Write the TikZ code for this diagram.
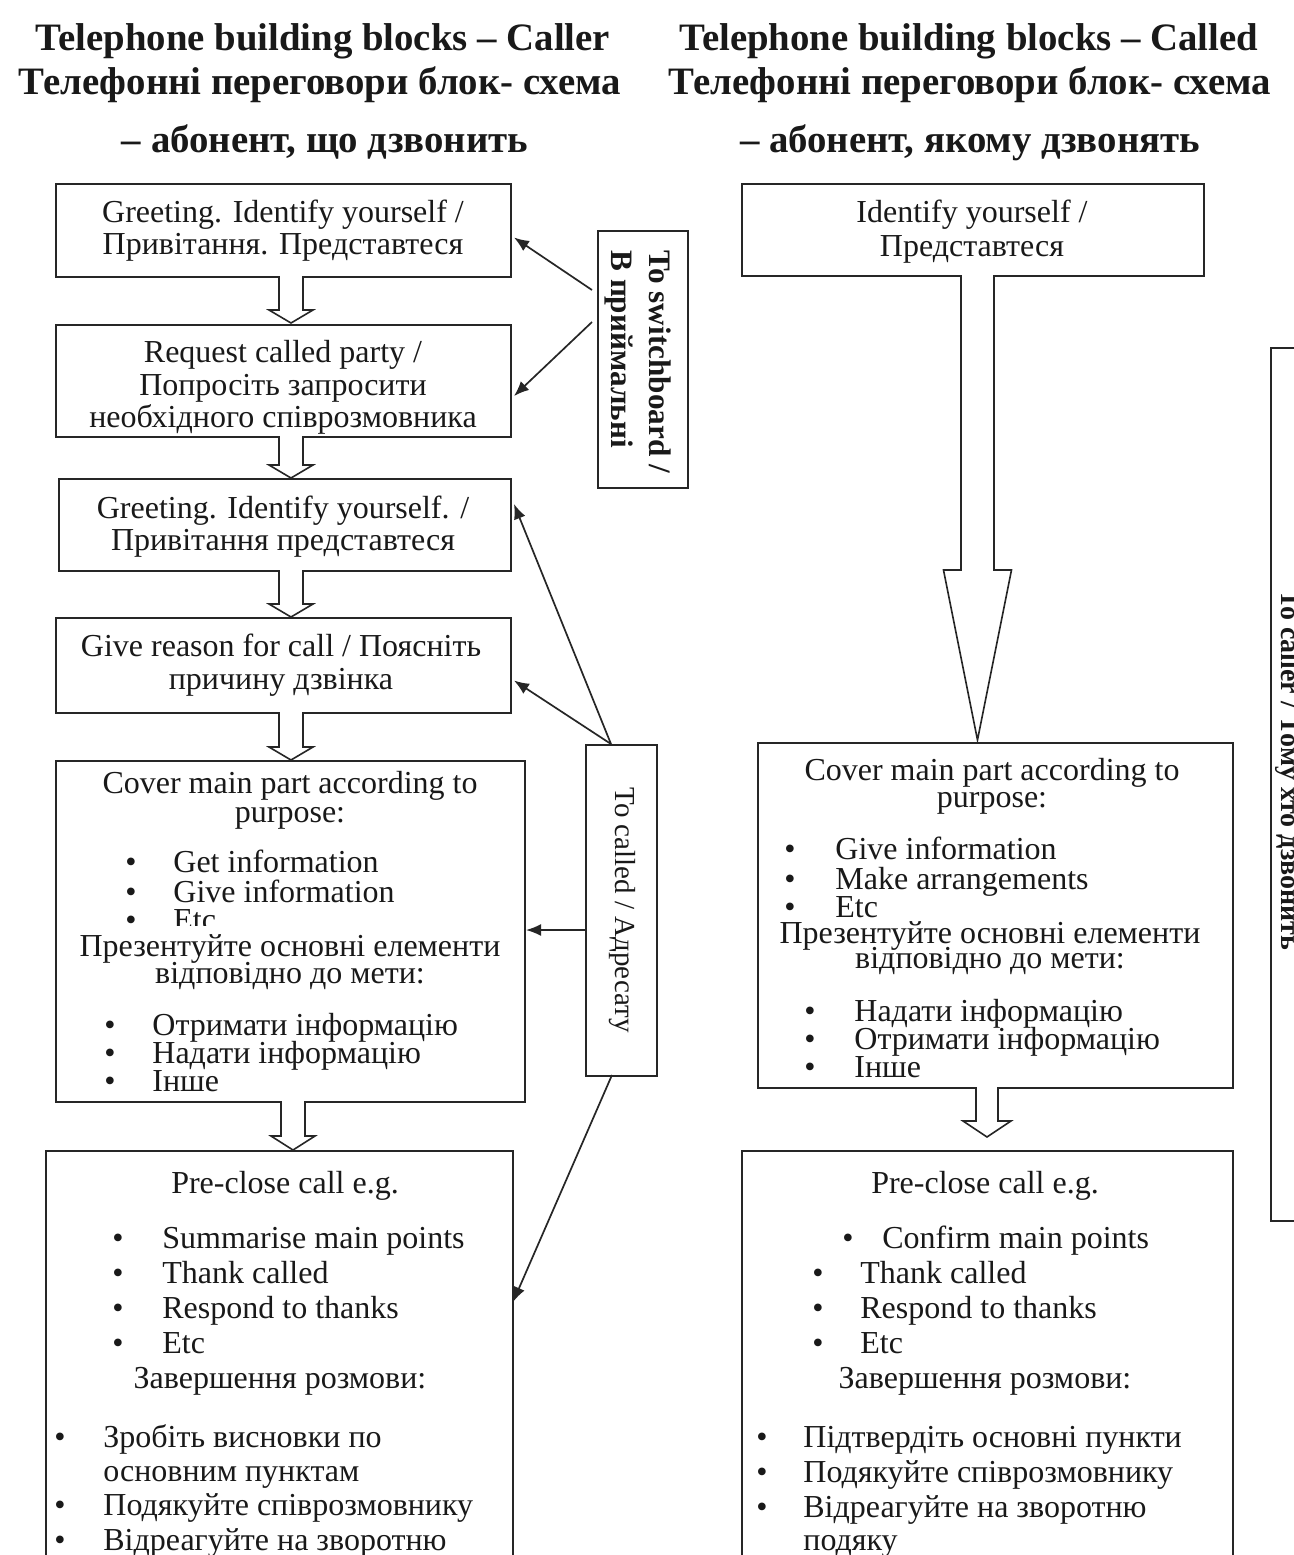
\documentclass[tikz,border=0pt]{standalone}
\usepackage{fontspec}
\setmainfont{Liberation Serif}
\usetikzlibrary{arrows.meta,calc}
\newcounter{tn}
\newcommand\bodyf{\fontsize{16}{15}\selectfont}
\newcommand\titf{\fontsize{19.4}{22}\selectfont\bfseries}
\newcommand\ct[3]{\stepcounter{tn}\node[txt,anchor=base] (t\arabic{tn}) at (#1,#2+10) {#3};}
\newcommand\lt[3]{\stepcounter{tn}\node[txt,anchor=base west] (t\arabic{tn}) at (#1,#2+10) {#3};}
\newcommand\bl[4]{\stepcounter{tn}\node[txt,anchor=base] (t\arabic{tn}) at (#1,#3+10) {•};\lt{#2}{#3}{#4}}
\newcommand\ttl[3]{\stepcounter{tn}\node[txt,font=\titf,anchor=base] (t\arabic{tn}) at (#1,#2+12) {#3};}
\newcommand\bx[5]{\node[box,anchor=north west,minimum width={0.5pt*(#4-#2)},minimum height={0.5pt*(#5-#3)}] (#1) at (#2,#3) {};}
% block arrow: x, ytop, ytip, shaft half, head half, head length
\newcommand\barrow[6]{\draw[barr] (#1-#4,#2) -- (#1-#4,#3-#6) -- (#1-#5,#3-#6) -- (#1,#3) -- (#1+#5,#3-#6) -- (#1+#4,#3-#6) -- (#1+#4,#2);}
\tikzset{
  txt/.style={inner sep=0pt,font=\bodyf,text=black!90},
  box/.style={draw=black!85,line width=1pt,fill=white,inner sep=0pt},
  barr/.style={draw=black!85,line width=0.8pt,fill=white,line join=miter},
  conn/.style={draw=black!85,line width=0.85pt,-{Latex[length=7.5pt,width=6pt]}},
  sidetxt/.style={txt,font=\fontsize{15.6}{17}\selectfont\bfseries,rotate=-90,anchor=base west},
}
\begin{document}
\begin{tikzpicture}[x=0.5pt,y=-0.5pt]
\useasboundingbox (0,0) rectangle (1294,1555);
\clip (0,0) rectangle (1294,1555);
\fill[white] (0,0) rectangle (1294,1555);

% titles
\ttl{323}{38}{Telephone building blocks – Caller}
\ttl{320}{82}{Телефонні переговори блок- схема}
\ttl{325}{140}{– абонент, що дзвонить}
\ttl{969}{38}{Telephone building blocks – Called}
\ttl{970}{82}{Телефонні переговори блок- схема}
\ttl{970}{140}{– абонент, якому дзвонять}

% left column boxes
\bx{b1}{55}{183}{510}{276}
\bx{b2}{55}{324}{510}{436}
\bx{b3}{58}{478}{510}{570}
\bx{b4}{55}{617}{510}{712}
\bx{b5}{55}{760}{524}{1101}
\bx{b6}{45}{1150}{512}{1600}

\ct{283}{212}{Greeting. Identify yourself /}
\ct{283}{244}{Привітання. Представтеся}
\ct{283}{352}{Request called party /}
\ct{283}{385}{Попросіть запросити}
\ct{283}{417}{необхідного співрозмовника}
\ct{283}{508}{Greeting. Identify yourself. /}
\ct{283}{540}{Привітання представтеся}
\ct{281}{646}{Give reason for call / Поясніть}
\ct{281}{679}{причину дзвінка}

\ct{290}{783}{Cover main part according to}
\ct{290}{812}{purpose:}
\bl{131}{173}{862}{Get information}
\bl{131}{173}{892}{Give information}
\bl{131}{173}{920}{Etc}
\stepcounter{tn}\node[txt,anchor=base,fill=white,inner ysep=4pt] (t\arabic{tn}) at (290,956) {Презентуйте основні елементи};
\ct{290}{973}{відповідно до мети:}
\bl{110}{152}{1025}{Отримати інформацію}
\bl{110}{152}{1053}{Надати інформацію}
\bl{110}{152}{1081}{Інше}

\ct{285}{1183}{Pre-close call e.g.}
\bl{118}{162}{1238}{Summarise main points}
\bl{118}{162}{1273}{Thank called}
\bl{118}{162}{1308}{Respond to thanks}
\bl{118}{162}{1343}{Etc}
\ct{280}{1378}{Завершення розмови:}
\bl{60}{103}{1437}{Зробіть висновки по}
\lt{103}{1471}{основним пунктам}
\bl{60}{103}{1505}{Подякуйте співрозмовнику}
\bl{60}{103}{1540}{Відреагуйте на зворотню}

% block arrows left
\barrow{291}{276}{323}{12}{22}{13}
\barrow{291}{436}{478}{12}{22}{13}
\barrow{291}{570}{617}{12}{22}{13}
\barrow{291}{712}{760}{12}{22}{13}
\barrow{293}{1101}{1150}{12}{22}{14}

% side boxes
\bx{sw}{597}{230}{687}{487}
\stepcounter{tn}\node[sidetxt] (t\arabic{tn}) at (649,250) {To switchboard /};
\stepcounter{tn}\node[sidetxt] (t\arabic{tn}) at (611,250) {В приймальні};
\bx{cd}{585}{744}{656}{1075}
\stepcounter{tn}\node[txt,font=\fontsize{14.5}{17}\selectfont,rotate=-90] (t\arabic{tn}) at (622,910) {To called / Адресату};

% connectors
\coordinate (swa) at (592,290);
\coordinate (swb) at (592,322);
\coordinate (cdt) at (611,744);
\coordinate (cdm) at (585,930);
\coordinate (cdb) at (612,1075);
\draw[conn] (swa) -- ($(b1.east)+(2,7)$);
\draw[conn] (swb) -- ($(b2.east)+(2,15)$);
\draw[conn] (cdt) -- ($(b3.east)+(2,-21)$);
\draw[conn] (cdt) -- ($(b4.east)+(2,15)$);
\draw[conn] (cdm) -- (cdm -| b5.east);
\draw[conn] (cdb) -- (513,1302);

% right column
\bx{r1}{741}{183}{1203}{275}
\ct{972}{212}{Identify yourself /}
\ct{972}{246}{Представтеся}
\barrow{977.5}{275}{740}{16.5}{34}{170}

\bx{r2}{757}{742}{1232}{1087}
\ct{992}{770}{Cover main part according to}
\ct{992}{797}{purpose:}
\bl{790}{835}{849}{Give information}
\bl{790}{835}{879}{Make arrangements}
\bl{790}{835}{907}{Etc}
\ct{990}{933}{Презентуйте основні елементи}
\ct{990}{958}{відповідно до мети:}
\bl{810}{854}{1011}{Надати інформацію}
\bl{810}{854}{1039}{Отримати інформацію}
\bl{810}{854}{1067}{Інше}
\barrow{987}{1087}{1137}{11}{24}{16}

\bx{r3}{741}{1150}{1232}{1600}
\ct{985}{1183}{Pre-close call e.g.}
\bl{848}{882}{1238}{Confirm main points}
\bl{818}{860}{1273}{Thank called}
\bl{818}{860}{1308}{Respond to thanks}
\bl{818}{860}{1343}{Etc}
\ct{985}{1378}{Завершення розмови:}
\bl{762}{803}{1437}{Підтвердіть основні пункти}
\bl{762}{803}{1472}{Подякуйте співрозмовнику}
\bl{762}{803}{1507}{Відреагуйте на зворотню}
\lt{803}{1540}{подяку}

% right edge box (cut off)
\bx{rc}{1270}{347}{1400}{1220}
\stepcounter{tn}\node[txt,font=\fontsize{14}{17}\selectfont\bfseries,rotate=-90,anchor=base west] (t\arabic{tn}) at (1281,590) {To caller / Тому хто дзвонить};
\end{tikzpicture}
\end{document}
